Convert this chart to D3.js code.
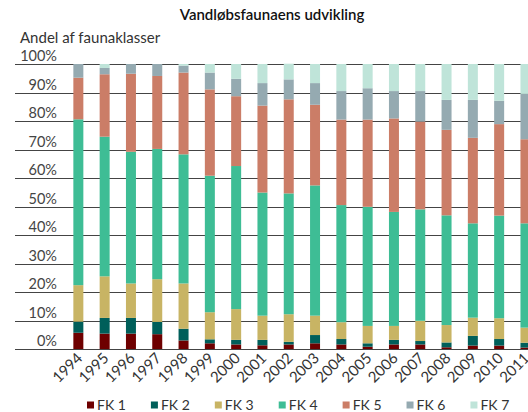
<!DOCTYPE html>
<html>
<head>
<meta charset="utf-8">
<script src="https://cdn.jsdelivr.net/npm/d3@7"></script>
<style>
  body { margin: 0; background: #fff; }
  svg { display: block; font-family: Lato, "Open Sans", sans-serif; }
</style>
</head>
<body>
<svg id="chart"></svg>
<script>
var years = ['1994','1995','1996','1997','1998','1999','2000','2001','2002','2003',
             '2004','2005','2006','2007','2008','2009','2010','2011'];
var classes = ['FK 1','FK 2','FK 3','FK 4','FK 5','FK 6','FK 7'];
var colors = ['#6e0000','#005f5a','#c8b464','#3ebd95','#cb7d67','#95aab1','#bfe4d9'];

// share (%) of each fauna class per year
var fk1 = [5.7, 5.4, 5.4, 5.2, 3.0, 2.0, 1.6, 1.3, 1.6, 2.0, 1.6, 0.8, 1.6, 1.6, 0.6, 1.2, 1.2, 0.5];
var fk2 = [3.9, 5.5, 5.5, 4.3, 4.1, 1.4, 1.6, 1.9, 0.9, 2.9, 1.9, 1.2, 1.6, 1.2, 1.7, 3.4, 2.3, 1.7];
var fk3 = [12.8,14.6,12.1,15.0,15.9, 9.5,10.8, 8.5, 9.7, 6.8, 5.9, 6.1, 4.9, 7.1, 6.1, 6.4, 7.3, 5.3];
var fk4 = [58.2,49.0,46.2,45.7,45.3,47.9,50.2,43.2,42.4,45.7,41.1,41.8,40.0,39.1,38.5,33.1,36.0,36.6];
var fk5 = [14.6,21.9,27.4,25.6,28.7,30.3,24.5,30.5,33.0,28.3,30.0,30.6,32.8,30.8,30.0,30.0,32.1,29.5];
var fk6 = [4.8, 2.2, 3.4, 4.2, 2.4, 5.9, 6.1, 7.9, 7.0, 7.6,10.0,11.0, 9.6,10.7,10.5,13.3, 8.2,15.9];
var fk7 = [0.0, 1.4, 0.0, 0.0, 0.6, 3.0, 5.2, 6.7, 5.5, 6.7, 9.5, 8.5, 9.5, 9.5,12.6,12.6,12.9,10.5];
var yTicks = [0, 10, 20, 30, 40, 50, 60, 70, 80, 90, 100];

var width = 528,
    height = 412;

var rows = years.map(function(y, i) {
  return {year: y, 'FK 1': fk1[i], 'FK 2': fk2[i], 'FK 3': fk3[i], 'FK 4': fk4[i],
          'FK 5': fk5[i], 'FK 6': fk6[i], 'FK 7': fk7[i]};
});

var svg = d3.select('#chart')
  .attr('width', width)
  .attr('height', height);

var x = d3.scaleBand()
  .domain(years)
  .range([65.2, 538.6])
  .paddingInner(0.62)
  .paddingOuter(0.31);

var y = d3.scaleLinear()
  .domain([0, 100])
  .range([349, 64]);

var color = d3.scaleOrdinal().domain(classes).range(colors);

// Title and axis caption
svg.append('text')
  .attr('x', 272)
  .attr('y', 20)
  .attr('text-anchor', 'middle')
  .attr('font-size', '15px')
  .attr('font-weight', 600)
  .attr('fill', '#111')
  .text('Vandløbsfaunaens udvikling');

svg.append('text')
  .attr('x', 20)
  .attr('y', 43)
  .attr('font-size', '15px')
  .attr('fill', '#333')
  .text('Andel af faunaklasser');

// Gridlines
svg.append('g')
  .selectAll('line')
  .data(yTicks)
  .enter().append('line')
    .attr('x1', 15)
    .attr('x2', width)
    .attr('y1', function(d) { return Math.round(y(d)) + 0.5; })
    .attr('y2', function(d) { return Math.round(y(d)) + 0.5; })
    .attr('stroke', '#444')
    .attr('stroke-width', 1.2);

svg.append('g')
  .selectAll('text')
  .data(yTicks)
  .enter().append('text')
    .attr('x', 57)
    .attr('y', function(d) { return y(d) - 3; })
    .attr('text-anchor', 'end')
    .attr('font-size', '14.5px')
    .attr('fill', '#444')
    .text(function(d) { return d + '%'; });

// Stacked bars
var stack = d3.stack().keys(classes)(rows);

svg.append('g')
  .selectAll('g')
  .data(stack)
  .enter().append('g')
    .attr('fill', function(d) { return color(d.key); })
  .selectAll('rect')
  .data(function(d) { return d; })
  .enter().append('rect')
    .attr('x', function(d) { return x(d.data.year); })
    .attr('width', x.bandwidth())
    .attr('y', function(d) { return y(d[1]); })
    .attr('height', function(d) { return y(d[0]) - y(d[1]); });

// Year labels, rotated
svg.append('g')
  .selectAll('text')
  .data(years)
  .enter().append('text')
    .attr('text-anchor', 'end')
    .attr('font-size', '15px')
    .attr('fill', '#333')
    .attr('transform', function(d) {
      return 'translate(' + (x(d) + x.bandwidth() / 2 + 5) + ',' + 359 + ')rotate(-45)';
    })
    .text(function(d) { return d; });

// Legend
var legend = svg.append('g');
var lx = 87;
classes.forEach(function(k) {
  legend.append('rect')
    .attr('x', lx)
    .attr('y', 401.5)
    .attr('width', 7)
    .attr('height', 7)
    .attr('fill', color(k));
  var t = legend.append('text')
    .attr('x', lx + 10)
    .attr('y', 410)
    .attr('font-size', '14px')
    .attr('fill', '#333')
    .text(k);
  lx += 10 + t.node().getComputedTextLength() + 25;
});
</script>
</body>
</html>
